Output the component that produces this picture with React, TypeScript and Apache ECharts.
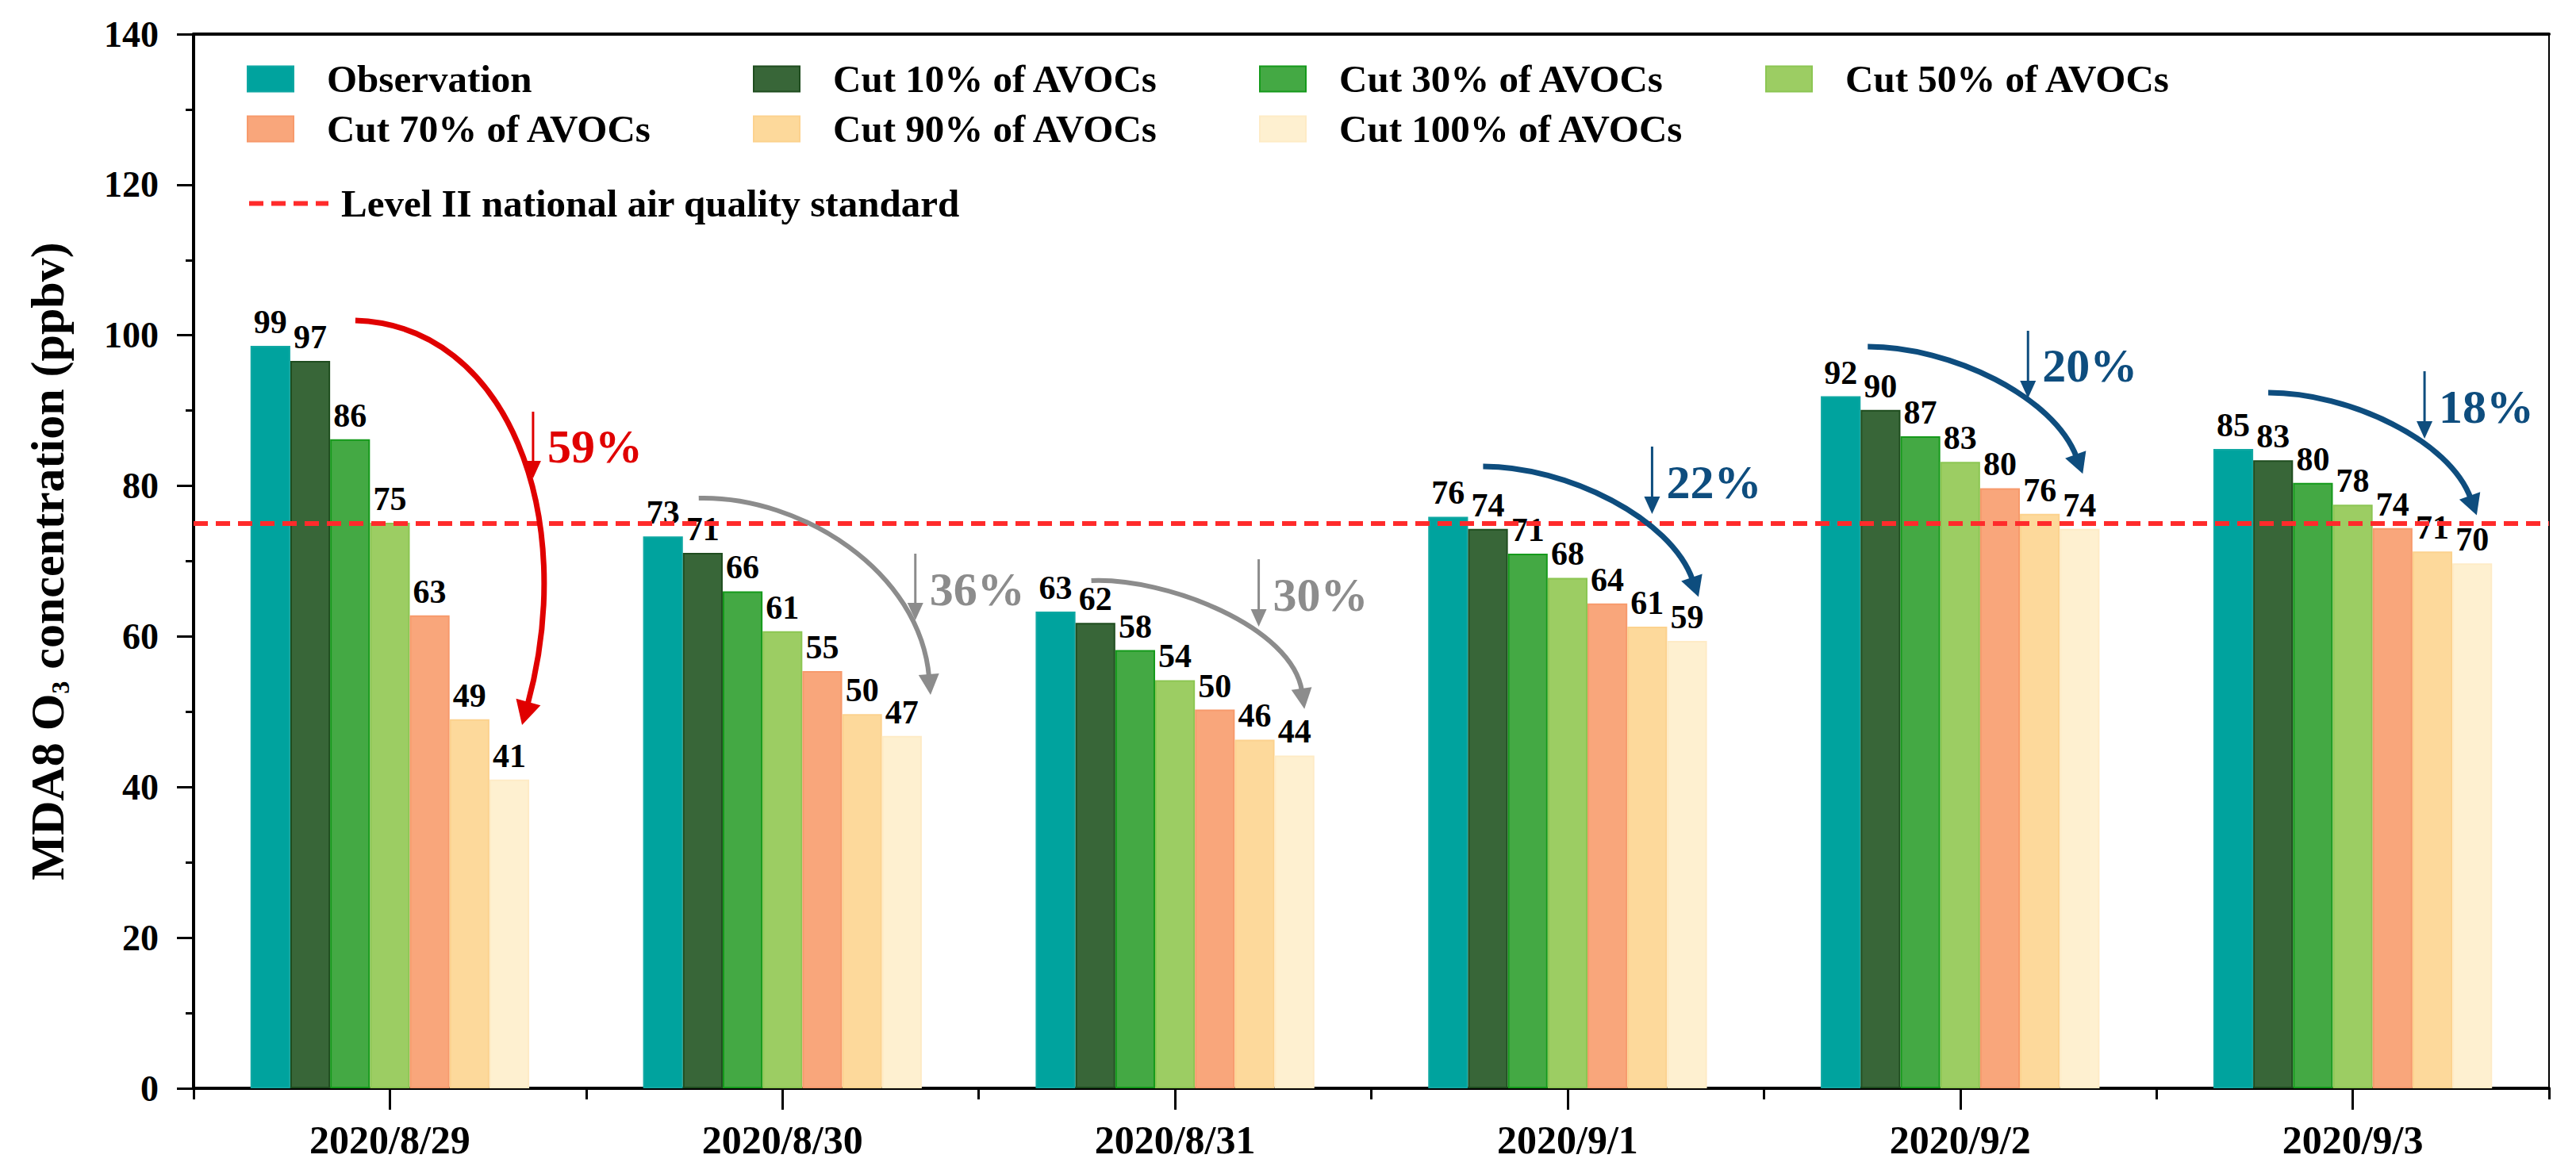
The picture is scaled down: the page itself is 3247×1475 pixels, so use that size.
import React, { useEffect, useRef } from 'react';
import * as echarts from 'echarts';

// ---------------- data ----------------
const days = ['2020/8/29', '2020/8/30', '2020/8/31', '2020/9/1', '2020/9/2', '2020/9/3'];
const seriesNames = [
  'Observation',
  'Cut 10% of AVOCs',
  'Cut 30% of AVOCs',
  'Cut 50% of AVOCs',
  'Cut 70% of AVOCs',
  'Cut 90% of AVOCs',
  'Cut 100% of AVOCs',
];
const observation = [98.6, 73.3, 63.3, 75.9, 91.9, 84.9];
const cut10 = [96.6, 71.1, 61.8, 74.3, 90.1, 83.4];
const cut30 = [86.2, 66.0, 58.2, 71.0, 86.6, 80.4];
const cut50 = [75.1, 60.7, 54.2, 67.8, 83.2, 77.5];
const cut70 = [62.8, 55.4, 50.3, 64.4, 79.7, 74.4];
const cut90 = [49.0, 49.7, 46.3, 61.3, 76.3, 71.3];
const cut100 = [41.0, 46.8, 44.2, 59.4, 74.3, 69.7];
const seriesValues = [observation, cut10, cut30, cut50, cut70, cut90, cut100];
const standardName = 'Level II national air quality standard';
const standardValue = 75;
const yMin = 0;
const yMax = 140;
const yInterval = 20;
const reductionLabels = ['59%', '36%', '30%', '22%', '20%', '18%'];

// ---------------- styles ----------------
const FONT = "'Liberation Serif', 'Times New Roman', serif";
const barColors = ['#00A39E', '#386638', '#44A944', '#9CCD63', '#F9A67B', '#FDD99B', '#FEF0D0'];
const barBorders = ['#10A8A3', '#1F4D1F', '#159A1B', '#8CC653', '#F79A6C', '#FCD28E', '#FEEBC6'];
const arrowColors = ['#E00000', '#8C8C8C', '#8C8C8C', '#0E4D7E', '#0E4D7E', '#0E4D7E'];
const standardColor = '#FF2B2B';

// annotation geometry: x as pixel offset from category centre, y as axis value
const arrowGeom = [
  { p: [[-43.5, 101.97], [148.5, 101.34], [238.5, 76.06], [174.5, 51.3]], small: [180.5, 89.86, 81.0], textV: 85.2, w: 7, head: [30, 16] },
  { p: [[-105.5, 78.37], [23.5, 78.69], [173.5, 68.68], [184.5, 54.99]], small: [167.5, 71.0, 62.15], textV: 66.26, w: 6, head: [26, 13] },
  { p: [[-105.5, 67.42], [-11.5, 67.84], [148.5, 61.31], [159.5, 53.09]], small: [105.5, 70.26, 61.31], textV: 65.52, w: 6, head: [26, 13] },
  { p: [[-106.5, 82.59], [-1.5, 82.59], [130.5, 75.74], [156.5, 67.84]], small: [106.5, 85.22, 76.27], textV: 80.48, w: 7, head: [26, 14] },
  { p: [[-116.5, 98.49], [-11.5, 98.49], [118.5, 91.86], [145.5, 84.17]], small: [85.5, 100.6, 91.65], textV: 95.97, w: 7, head: [26, 14] },
  { p: [[-106.5, 92.38], [-4.5, 92.38], [122.5, 86.06], [147.5, 78.69]], small: [90.5, 95.23, 86.27], textV: 90.49, w: 7, head: [26, 14] },
];

function buildOption(): any {
  const bars = seriesNames.map((name, i) => ({
    name,
    type: 'bar',
    xAxisIndex: 0,
    yAxisIndex: 0,
    data: seriesValues[i],
    barGap: '0%',
    barCategoryGap: '29%',
    itemStyle: { color: barColors[i], borderColor: barBorders[i], borderWidth: 2 },
    label: {
      show: true,
      position: 'top',
      distance: 9,
      fontFamily: FONT,
      fontWeight: 'bold',
      fontSize: 42,
      color: '#000',
      formatter: (p: any) => String(Math.round(p.value)),
    },
    z: 2,
  }));

  const legendText = {
    fontFamily: FONT,
    fontWeight: 'bold',
    fontSize: 49,
    color: '#000',
    lineHeight: 40,
  };

  return {
    animation: false,
    backgroundColor: '#ffffff',
    grid: { left: 244, right: 34, top: 43, bottom: 103, containLabel: false },
    legend: [
      {
        data: seriesNames.slice(0, 4),
        left: 311,
        top: 75,
        padding: 0,
        orient: 'horizontal',
        icon: 'rect',
        itemWidth: 58,
        itemHeight: 32,
        itemGap: 10,
        selectedMode: false,
        textStyle: { ...legendText, width: 527, padding: [0, 0, 0, 37] },
      },
      {
        data: seriesNames.slice(4),
        left: 311,
        top: 138,
        padding: 0,
        orient: 'horizontal',
        icon: 'rect',
        itemWidth: 58,
        itemHeight: 32,
        itemGap: 10,
        selectedMode: false,
        textStyle: { ...legendText, width: 527, padding: [0, 0, 0, 37] },
      },
      {
        data: [standardName],
        left: 311,
        top: 232,
        padding: 0,
        itemWidth: 100,
        itemHeight: 32,
        selectedMode: false,
        itemStyle: { opacity: 0, borderWidth: 0 },
        lineStyle: { color: standardColor, width: 6, type: [18, 10], opacity: 1 },
        textStyle: { ...legendText, padding: [0, 0, 0, 11] },
      },
    ],
    xAxis: [
      {
        type: 'category',
        data: days,
        position: 'bottom',
        axisLine: { show: true, lineStyle: { color: '#000', width: 4 } },
        axisTick: { show: true, alignWithLabel: true, length: 27, lineStyle: { color: '#000', width: 3 } },
        axisLabel: {
          fontFamily: FONT,
          fontWeight: 'bold',
          fontSize: 50,
          color: '#000',
          margin: 40,
          interval: 0,
        },
        splitLine: { show: false },
      },
      {
        type: 'category',
        data: days,
        position: 'bottom',
        axisLine: { show: false },
        axisTick: { show: true, interval: 0, length: 14, lineStyle: { color: '#000', width: 3 } },
        axisLabel: { show: false },
        splitLine: { show: false },
      },
      {
        type: 'category',
        data: days,
        position: 'top',
        axisLine: { show: true, lineStyle: { color: '#000', width: 4 } },
        axisTick: { show: false },
        axisLabel: { show: false },
        splitLine: { show: false },
      },
      {
        type: 'value',
        min: 0,
        max: 1,
        show: false,
        position: 'bottom',
      },
    ],
    yAxis: [
      {
        type: 'value',
        min: yMin,
        max: yMax,
        interval: yInterval,
        position: 'left',
        axisLine: { show: true, lineStyle: { color: '#000', width: 4 } },
        axisTick: { show: true, length: 21, lineStyle: { color: '#000', width: 3 } },
        minorTick: { show: true, splitNumber: 2, length: 10, lineStyle: { color: '#000', width: 3 } },
        axisLabel: {
          fontFamily: FONT,
          fontWeight: 'bold',
          fontSize: 46,
          color: '#000',
          margin: 44,
        },
        splitLine: { show: false },
        minorSplitLine: { show: false },
        name: '{m|MDA8 O}{s|3}{m| concentration (ppbv)}',
        nameLocation: 'middle',
        nameGap: 152,
        nameTextStyle: {
          rich: {
            m: { fontFamily: FONT, fontWeight: 'bold', fontSize: 60, color: '#000', lineHeight: 64 },
            s: { fontFamily: FONT, fontWeight: 'bold', fontSize: 32, color: '#000', lineHeight: 40, verticalAlign: 'bottom' },
          },
        },
      },
      {
        type: 'value',
        min: yMin,
        max: yMax,
        interval: yInterval,
        position: 'right',
        axisLine: { show: true, lineStyle: { color: '#000', width: 2 } },
        axisTick: { show: false },
        axisLabel: { show: false },
        splitLine: { show: false },
      },
    ],
    series: [
      ...bars,
      {
        name: standardName,
        type: 'line',
        xAxisIndex: 3,
        yAxisIndex: 0,
        data: [[0, standardValue], [1, standardValue]],
        symbol: 'none',
        showSymbol: false,
        color: standardColor,
        lineStyle: { color: standardColor, width: 6, type: [18, 10] },
        z: 5,
        silent: true,
      },
    ],
  };
}

export default function App() {
  const ref = useRef<HTMLDivElement>(null);
  useEffect(() => {
    const el = ref.current;
    if (!el) return;
    const chart = echarts.init(el, null, { renderer: 'svg' });
    chart.setOption(buildOption());

    const toPx = (i: number, dx: number, v: number) => {
      const p = chart.convertToPixel({ seriesIndex: 0 }, [i, v]) as number[];
      return [p[0] + dx, p[1]];
    };

    const elements: any[] = [];
    arrowGeom.forEach((g, i) => {
      const color = arrowColors[i];
      const pts = g.p.map(([dx, v]) => toPx(i, dx, v));
      const [p0, p1, p2, p3] = pts;
      let dx = p3[0] - p2[0];
      let dy = p3[1] - p2[1];
      const len = Math.sqrt(dx * dx + dy * dy) || 1;
      dx /= len;
      dy /= len;
      const [hl, hw] = g.head;
      const tip = [p3[0] + dx * hl, p3[1] + dy * hl];
      const b1 = [p3[0] - dy * hw, p3[1] + dx * hw];
      const b2 = [p3[0] + dy * hw, p3[1] - dx * hw];
      elements.push({
        type: 'bezierCurve',
        silent: true,
        z: 100,
        shape: { x1: p0[0], y1: p0[1], cpx1: p1[0], cpy1: p1[1], cpx2: p2[0], cpy2: p2[1], x2: p3[0] + dx * 4, y2: p3[1] + dy * 4 },
        style: { stroke: color, lineWidth: g.w, fill: null },
      });
      elements.push({
        type: 'polygon',
        silent: true,
        z: 100,
        shape: { points: [tip, b1, b2] },
        style: { fill: color },
      });
      // small down arrow
      const [sx, vTop, vTip] = g.small;
      const top = toPx(i, sx, vTop);
      const sTip = toPx(i, sx, vTip);
      const sHead = 22;
      elements.push({
        type: 'line',
        silent: true,
        z: 100,
        shape: { x1: top[0], y1: top[1], x2: sTip[0], y2: sTip[1] - sHead + 2 },
        style: { stroke: color, lineWidth: 3 },
      });
      elements.push({
        type: 'polygon',
        silent: true,
        z: 100,
        shape: { points: [[sTip[0], sTip[1]], [sTip[0] - 10, sTip[1] - sHead], [sTip[0] + 10, sTip[1] - sHead]] },
        style: { fill: color },
      });
      const tp = toPx(i, sx + 18, g.textV);
      elements.push({
        type: 'text',
        silent: true,
        z: 100,
        style: {
          x: tp[0],
          y: tp[1],
          text: reductionLabels[i],
          font: `bold 60px ${FONT}`,
          fill: color,
          textAlign: 'left',
          textVerticalAlign: 'middle',
        },
      });
    });
    chart.setOption({ graphic: elements });

    return () => {
      chart.dispose();
    };
  }, []);

  return (
    <div
      ref={ref}
      style={{ position: 'fixed', left: 0, top: 0, width: 3247, height: 1475, background: '#ffffff' }}
    />
  );
}
